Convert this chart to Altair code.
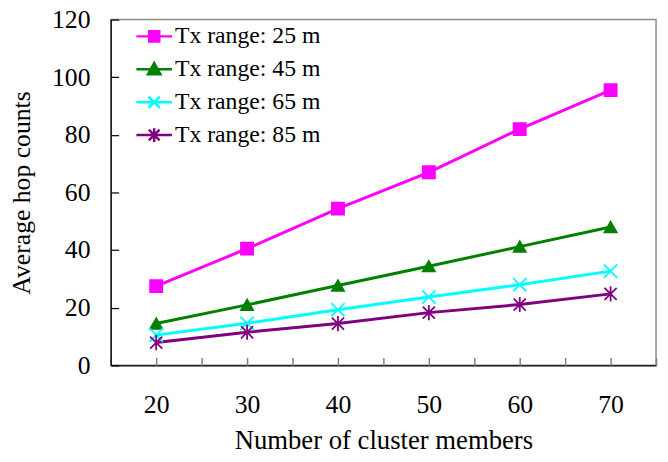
import altair as alt
import pandas as pd

# ---- data ----
members = [20, 30, 40, 50, 60, 70]
series_names = ["Tx range: 25 m", "Tx range: 45 m", "Tx range: 65 m", "Tx range: 85 m"]
hops_25 = [27.5, 40.5, 54.4, 67.0, 82.0, 95.5]
hops_45 = [14.5, 21.0, 27.7, 34.4, 41.2, 48.0]
hops_65 = [10.5, 14.6, 19.3, 23.7, 28.0, 32.7]
hops_85 = [7.9, 11.5, 14.5, 18.3, 21.1, 24.8]

x_label_values = [20, 30, 40, 50, 60, 70]
x_tick_values = [15, 20, 25, 30, 35, 40, 45, 50, 55, 60, 65, 70, 75]
y_tick_values = [0, 20, 40, 60, 80, 100, 120]

colors = ["#FF00FF", "#008000", "#00FFFF", "#800080"]
chart_shapes = [
    "square",
    "triangle-up",
    "M-1.1,-1.1L1.1,1.1M-1.1,1.1L1.1,-1.1",
    "M-1,-1L1,1M-1,1L1,-1M0,-1.25L0,1.25",
]
legend_shapes = [
    "M-3,0H3M-0.85,-0.85H0.85V0.85H-0.85Z",
    "M-3,0H3M0,-1.05L1.05,0.85H-1.05Z",
    "M-3,0H3M-0.95,-0.95L0.95,0.95M-0.95,0.95L0.95,-0.95",
    "M-3,0H3M-0.9,-0.9L0.9,0.9M-0.9,0.9L0.9,-0.9M0,-1.15L0,1.15",
]

rows = []
for name, vals in zip(series_names, [hops_25, hops_45, hops_65, hops_85]):
    for m, v in zip(members, vals):
        rows.append({"members": m, "hops": v, "series": name})
df = pd.DataFrame(rows)

W, H = 552, 350
FONT = "Liberation Serif"

xscale = alt.Scale(domain=[15, 75], nice=False, zero=False)
yscale = alt.Scale(domain=[0, 120], nice=False)
cscale = alt.Scale(domain=series_names, range=colors)

base = alt.Chart(df)

# lines + the labelled axes (left / bottom)
lines = base.mark_line(strokeWidth=3).encode(
    x=alt.X("members:Q", scale=xscale,
            axis=alt.Axis(title="Number of cluster members", values=x_label_values,
                          ticks=False, grid=False, domainColor="black", domainWidth=1.2,
                          labelFont=FONT, labelFontSize=26, labelColor="black",
                          labelPadding=27, titleFont=FONT, titleFontSize=27,
                          titleFontWeight="normal", titleColor="black", titlePadding=10)),
    y=alt.Y("hops:Q", scale=yscale,
            axis=alt.Axis(title="Average hop counts", values=y_tick_values,
                          ticks=False, grid=False, domainColor="black", domainWidth=1.2,
                          labelFont=FONT, labelFontSize=26, labelColor="black",
                          labelPadding=21, titleFont=FONT, titleFontSize=26,
                          titleFontWeight="normal", titleColor="black", titlePadding=17)),
    color=alt.Color("series:N", scale=cscale, legend=None),
    detail="series:N",
)

# markers + inward ticks (axes placed on the opposite side with negative offset)
points = base.mark_point(filled=True, size=150, strokeWidth=1.8, opacity=1).encode(
    x=alt.X("members:Q", scale=xscale,
            axis=alt.Axis(orient="top", offset=-H, values=x_tick_values, labels=False,
                          domain=False, grid=False, tickSize=8, tickColor="#808080",
                          tickWidth=1.5, title=None)),
    y=alt.Y("hops:Q", scale=yscale,
            axis=alt.Axis(orient="right", offset=-W, values=y_tick_values, labels=False,
                          domain=False, grid=False, tickSize=8, tickColor="black",
                          tickWidth=1.2, title=None)),
    color=alt.Color("series:N", scale=cscale, legend=None),
    stroke=alt.Stroke("series:N", scale=cscale, legend=None),
    shape=alt.Shape("series:N", scale=alt.Scale(domain=series_names, range=chart_shapes),
                    legend=None),
)

leg = alt.Legend(title=None, orient="none", legendX=32, legendY=5, padding=0,
                 labelFont=FONT, labelFontSize=24, labelColor="black",
                 symbolSize=144, symbolStrokeWidth=2.5, symbolOpacity=1,
                 labelOffset=9, rowPadding=9.3)

legend_layer = base.transform_filter("false").mark_point(
    filled=True, size=144, strokeWidth=2.5, opacity=1
).encode(
    x=alt.X("members:Q", scale=xscale, axis=None),
    y=alt.Y("hops:Q", scale=yscale, axis=None),
    color=alt.Color("series:N", scale=cscale, legend=leg),
    stroke=alt.Stroke("series:N", scale=cscale, legend=leg),
    shape=alt.Shape("series:N", scale=alt.Scale(domain=series_names, range=legend_shapes),
                    legend=leg),
)

chart = (
    alt.layer(lines, points, legend_layer)
    .resolve_scale(color="independent", stroke="independent", shape="independent")
    .resolve_axis(x="independent", y="independent")
    .properties(width=W, height=H,
                autosize=alt.AutoSizeParams(type="none"),
                padding={"left": 104, "top": 9, "right": 4, "bottom": 87})
    .configure(background="white", font=FONT)
    .configure_axis(labelFont=FONT, titleFont=FONT)
    .configure_legend(labelFont=FONT)
    .configure_view(stroke="#8C8C8C", strokeWidth=1.5)
)

chart.save("out.html", embed_options={"renderer": "svg", "actions": False})
